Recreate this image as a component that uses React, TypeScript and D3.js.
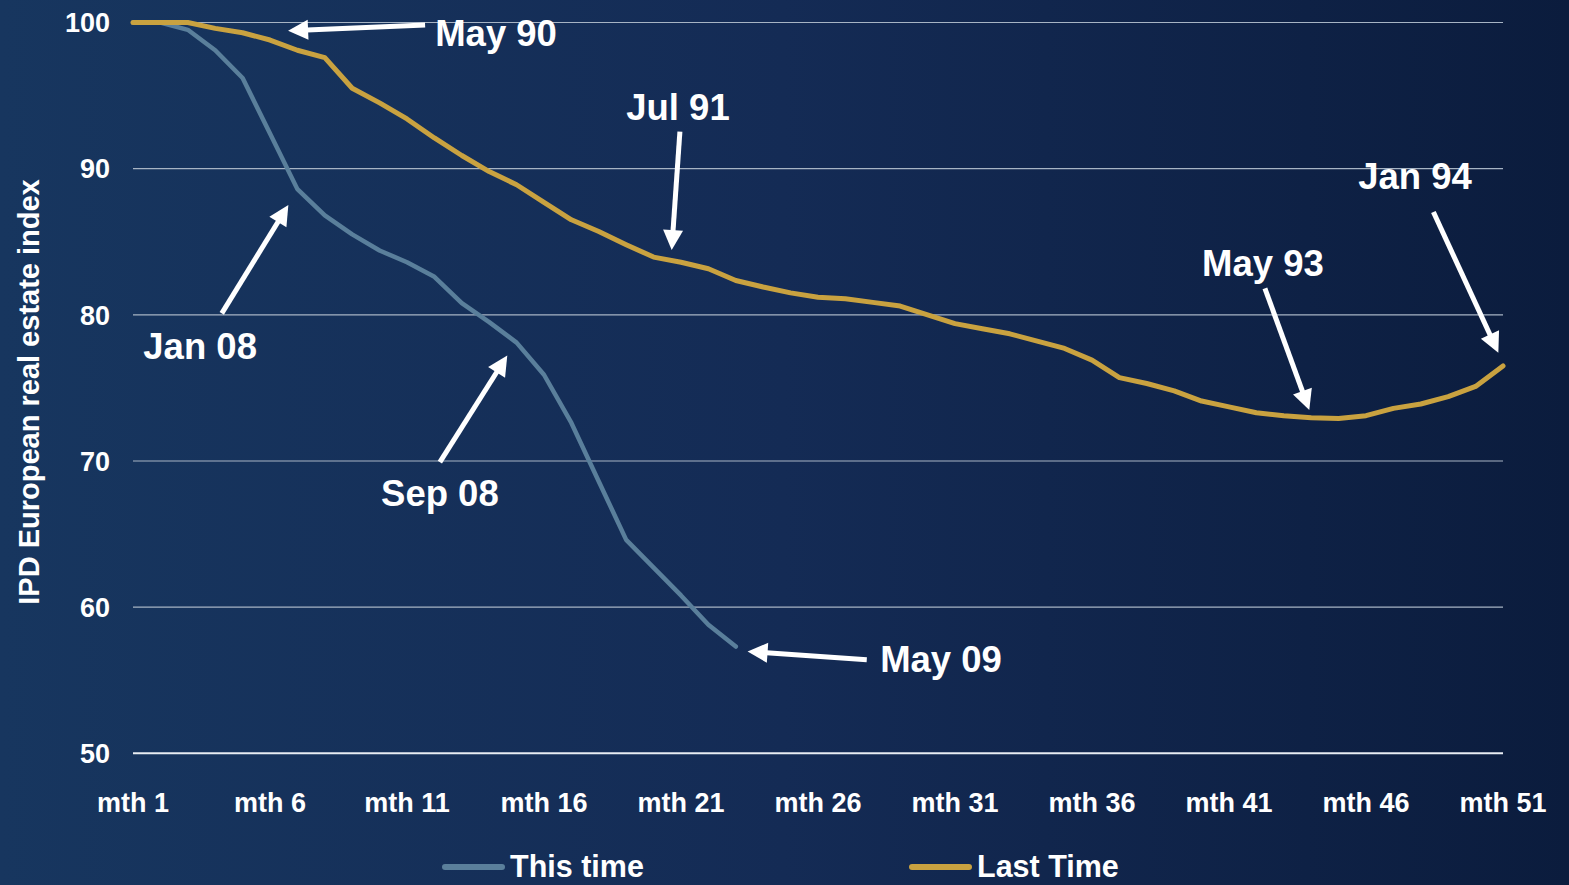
import React, { useEffect, useRef } from "react";
import * as d3 from "d3";

// month index 1..51
const months = d3.range(1, 52);

const thisTime = [
  100, 100, 99.5, 98.1, 96.2, 92.4, 88.6, 86.8, 85.5, 84.4, 83.6, 82.6, 80.8,
  79.5, 78.1, 75.9, 72.6, 68.6, 64.6, 62.7, 60.8, 58.8, 57.3,
];

const lastTime = [
  100, 100, 100, 99.6, 99.3, 98.8, 98.1, 97.6, 95.5, 94.5, 93.4, 92.1, 90.9,
  89.8, 88.9, 87.7, 86.5, 85.7, 84.8, 83.95, 83.6, 83.15, 82.35, 81.9, 81.5,
  81.2, 81.1, 80.85, 80.6, 80.0, 79.4, 79.05, 78.7, 78.2, 77.7, 76.9, 75.7,
  75.3, 74.8, 74.1, 73.7, 73.3, 73.1, 72.95, 72.9, 73.1, 73.6, 73.9, 74.4,
  75.1, 76.5,
];

const yTicks = [50, 60, 70, 80, 90, 100];
const xTicks = [1, 6, 11, 16, 21, 26, 31, 36, 41, 46, 51];

const seriesNames = ["This time", "Last Time"];
const seriesColors = ["#5a7f9b", "#c9a240"];

// annotations in data space: label position, arrow tail, arrow tip (month, value)
const annLabels = ["May 90", "Jul 91", "Jan 08", "Sep 08", "May 09", "May 93", "Jan 94"];
const annLabelPos = [
  [14.25, 98.4], [20.89, 93.33], [3.45, 77.0], [12.2, 66.95],
  [30.49, 55.55], [42.24, 82.65], [47.79, 88.59],
];
const annTail = [
  [11.66, 99.83], [20.96, 92.53], [4.24, 80.1], [12.2, 69.92],
  [27.78, 56.4], [42.31, 81.81], [48.46, 87.03],
];
const annTip = [
  [6.66, 99.44], [20.66, 84.43], [6.67, 87.51], [14.66, 77.22],
  [23.43, 56.97], [43.93, 73.49], [50.83, 77.41],
];

const W = 1569;
const H = 885;
const FONT = "'Liberation Sans', Arial, sans-serif";

export default function App() {
  const ref = useRef<SVGSVGElement>(null);

  useEffect(() => {
    const svg = d3.select(ref.current);
    svg.selectAll("*").remove();

    const defs = svg.append("defs");
    const grad = defs
      .append("linearGradient")
      .attr("id", "bg")
      .attr("x1", "0")
      .attr("x2", "1")
      .attr("y1", "0")
      .attr("y2", "0");
    grad.append("stop").attr("offset", "0").attr("stop-color", "#17365f");
    grad.append("stop").attr("offset", "0.5").attr("stop-color", "#142b55");
    grad.append("stop").attr("offset", "1").attr("stop-color", "#0b1c3d");

    svg.append("rect").attr("width", W).attr("height", H).attr("fill", "url(#bg)");

    const x = d3.scaleLinear().domain([1, 51]).range([133, 1503]);
    const y = d3.scaleLinear().domain([50, 100]).range([753.3, 22.5]);

    // gridlines
    svg
      .append("g")
      .selectAll("line")
      .data(yTicks)
      .enter()
      .append("line")
      .attr("x1", x(1))
      .attr("x2", x(51))
      .attr("y1", (d) => y(d))
      .attr("y2", (d) => y(d))
      .attr("stroke", (d) => (d === 50 ? "#e8edf3" : "#a7b4c4"))
      .attr("stroke-width", (d) => (d === 50 ? 2 : 1.2));

    // y tick labels
    svg
      .append("g")
      .selectAll("text")
      .data(yTicks)
      .enter()
      .append("text")
      .attr("x", 110)
      .attr("y", (d) => y(d))
      .attr("dy", "0.36em")
      .attr("text-anchor", "end")
      .attr("fill", "#fff")
      .attr("font-family", FONT)
      .attr("font-weight", "bold")
      .attr("font-size", 27)
      .text((d) => d);

    // x tick labels
    svg
      .append("g")
      .selectAll("text")
      .data(xTicks)
      .enter()
      .append("text")
      .attr("x", (d) => x(d))
      .attr("y", 812)
      .attr("text-anchor", "middle")
      .attr("fill", "#fff")
      .attr("font-family", FONT)
      .attr("font-weight", "bold")
      .attr("font-size", 27)
      .text((d) => `mth ${d}`);

    // y axis title
    svg
      .append("text")
      .attr("transform", `translate(39,392) rotate(-90)`)
      .attr("text-anchor", "middle")
      .attr("fill", "#fff")
      .attr("font-family", FONT)
      .attr("font-weight", "bold")
      .attr("font-size", 29)
      .text("IPD European real estate index");

    const line = d3
      .line<number>()
      .x((d, i) => x(months[i]))
      .y((d) => y(d));

    [thisTime, lastTime].forEach((vals, i) => {
      svg
        .append("path")
        .attr("d", line(vals))
        .attr("fill", "none")
        .attr("stroke", seriesColors[i])
        .attr("stroke-width", i === 0 ? 4.5 : 5)
        .attr("stroke-linejoin", "round")
        .attr("stroke-linecap", "round");
    });

    // annotations
    const ann = svg.append("g");
    annLabels.forEach((label, i) => {
      const [tx, ty] = [x(annTail[i][0]), y(annTail[i][1])];
      const [px, py] = [x(annTip[i][0]), y(annTip[i][1])];
      const ang = Math.atan2(py - ty, px - tx);
      const headLen = 20;
      const headW = 10;
      const bx = px - headLen * Math.cos(ang);
      const by = py - headLen * Math.sin(ang);
      ann
        .append("line")
        .attr("x1", tx)
        .attr("y1", ty)
        .attr("x2", bx + Math.cos(ang))
        .attr("y2", by + Math.sin(ang))
        .attr("stroke", "#fff")
        .attr("stroke-width", 5);
      const nx = -Math.sin(ang);
      const ny = Math.cos(ang);
      ann
        .append("path")
        .attr(
          "d",
          `M${px},${py}L${bx + nx * headW},${by + ny * headW}L${bx - nx * headW},${by - ny * headW}Z`
        )
        .attr("fill", "#fff");
      ann
        .append("text")
        .attr("x", x(annLabelPos[i][0]))
        .attr("y", y(annLabelPos[i][1]))
        .attr("text-anchor", "middle")
        .attr("fill", "#fff")
        .attr("font-family", FONT)
        .attr("font-weight", "bold")
        .attr("font-size", 36.5)
        .text(label);
    });

    // legend
    const legendX = [445, 912];
    const legend = svg.append("g");
    seriesNames.forEach((name, i) => {
      legend
        .append("line")
        .attr("x1", legendX[i])
        .attr("x2", legendX[i] + 57)
        .attr("y1", 867)
        .attr("y2", 867)
        .attr("stroke", seriesColors[i])
        .attr("stroke-width", 6)
        .attr("stroke-linecap", "round");
      legend
        .append("text")
        .attr("x", legendX[i] + 65)
        .attr("y", 877)
        .attr("fill", "#fff")
        .attr("font-family", FONT)
        .attr("font-weight", "bold")
        .attr("font-size", 30.5)
        .text(name);
    });
  }, []);

  return (
    <svg
      ref={ref}
      width={W}
      height={H}
      style={{ position: "absolute", left: 0, top: 0, display: "block" }}
    />
  );
}
